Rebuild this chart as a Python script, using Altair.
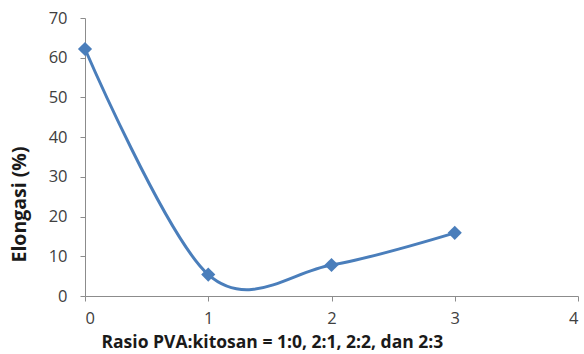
import altair as alt
import pandas as pd

# PVA:chitosan ratio index and measured elongation (%)
ratio_index = [0, 1, 2, 3]
elongation = [62.2, 5.4, 7.8, 15.9]

x_ticks = [0, 1, 2, 3, 4]
y_ticks = [0, 10, 20, 30, 40, 50, 60, 70]

df = pd.DataFrame({"rasio": ratio_index, "elongasi": elongation})

BLUE = "#4a7ebb"
AXIS_GRAY = "#8c8c8c"
LABEL = "#404040"
FONT = "Open Sans"

x_enc = alt.X(
    "rasio:Q",
    scale=alt.Scale(domain=[0, 4], nice=False),
    axis=alt.Axis(
        values=x_ticks,
        format="d",
        labelOverlap=False,
        title="Rasio PVA:kitosan = 1:0, 2:1, 2:2, dan 2:3",
        titleFont=FONT,
        titleFontSize=17.5,
        titleFontWeight="bold",
        titleColor="#1a1a1a",
        titleAnchor="start",
        titleBaseline="middle",
        titleX=16,
        titleY=46,
        labelFont=FONT,
        labelFontSize=16.5,
        labelColor=LABEL,
        labelPadding=9,
        domainColor=AXIS_GRAY,
        tickColor=AXIS_GRAY,
        tickSize=5,
        grid=False,
    ),
)
y_enc = alt.Y(
    "elongasi:Q",
    scale=alt.Scale(domain=[0, 70], nice=False),
    axis=alt.Axis(
        values=y_ticks,
        format="d",
        labelOverlap=False,
        title="Elongasi (%)",
        titleFont=FONT,
        titleFontSize=19.5,
        titleFontWeight="bold",
        titleColor="#1a1a1a",
        titleAnchor="middle",
        titleBaseline="middle",
        titleY=186,
        titleX=-66,
        labelFont=FONT,
        labelFontSize=16.5,
        labelColor=LABEL,
        labelPadding=13,
        domainColor=AXIS_GRAY,
        tickColor=AXIS_GRAY,
        tickSize=5,
        grid=False,
    ),
)

base = alt.Chart(df).encode(x=x_enc, y=y_enc)

line = base.mark_line(interpolate="cardinal", color=BLUE, strokeWidth=3)
points = base.mark_point(
    shape="diamond", filled=True, color=BLUE, size=200, opacity=1
)

chart = (
    alt.layer(line, points)
    .properties(
        width=493,
        height=278,
        autosize=alt.AutoSizeParams(type="none"),
        padding={"left": 85, "top": 18, "right": 6, "bottom": 58},
        background="white",
    )
    .configure_view(stroke=None)
)

chart.save("out.html", embed_options={"renderer": "svg", "actions": False})
